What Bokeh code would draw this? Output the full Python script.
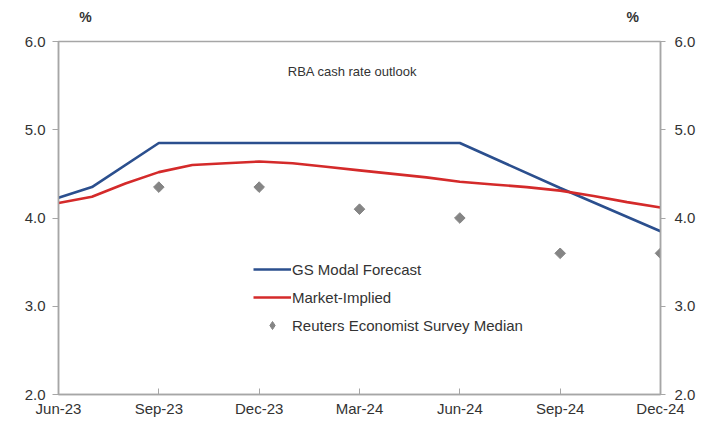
import math
from bokeh.plotting import figure
from bokeh.models import (LinearAxis, Range1d, FixedTicker, PrintfTickFormatter,
                          Legend, LegendItem, Label)
from bokeh.embed import file_html
from bokeh.resources import INLINE

months = ["Jun-23", "Jul-23", "Aug-23", "Sep-23", "Oct-23", "Nov-23", "Dec-23",
          "Jan-24", "Feb-24", "Mar-24", "Apr-24", "May-24", "Jun-24",
          "Jul-24", "Aug-24", "Sep-24", "Oct-24", "Nov-24", "Dec-24"]
tick_labels = ["Jun-23", "Sep-23", "Dec-23", "Mar-24", "Jun-24", "Sep-24", "Dec-24"]

gs_months = ["Jun-23", "Jul-23", "Sep-23", "Dec-23", "Mar-24", "Jun-24", "Sep-24", "Dec-24"]
gs_values = [4.23, 4.35, 4.85, 4.85, 4.85, 4.85, 4.34, 3.85]

mkt_months = months
mkt_values = [4.17, 4.24, 4.39, 4.52, 4.60, 4.62, 4.64, 4.62, 4.58, 4.54, 4.50,
              4.46, 4.41, 4.38, 4.35, 4.31, 4.25, 4.18, 4.12]

survey_months = ["Sep-23", "Dec-23", "Mar-24", "Jun-24", "Sep-24", "Dec-24"]
survey_values = [4.35, 4.35, 4.10, 4.00, 3.60, 3.60]

idx = {m: i for i, m in enumerate(months)}

FONT = "Liberation Sans"
TXT = "#333333"
AX = "#a6a6a6"
GREY = "#858585"

p = figure(width=702, height=430, output_backend="svg", toolbar_location=None,
           x_range=Range1d(0, len(months) - 1), y_range=Range1d(2.0, 6.0),
           min_border_left=58, min_border_right=42, min_border_top=41,
           min_border_bottom=36, outline_line_color=AX, outline_line_width=1.5)
p.grid.visible = False
p.background_fill_color = "white"
p.border_fill_color = "white"

gs = p.line([idx[m] for m in gs_months], gs_values, line_color="#2b4f8e", line_width=2.6)
mk = p.line([idx[m] for m in mkt_months], mkt_values, line_color="#d42a2a", line_width=2.6)
p.scatter([idx[m] for m in survey_months], survey_values, marker="square",
          angle=math.pi / 4, size=7.5, fill_color=GREY, line_color=GREY)
# legend-only glyph (a single NaN point, never drawn in the plot): small diamond
sv_leg = p.scatter(x=[float("nan")], y=[float("nan")], marker="diamond", size=8,
                   fill_color=GREY, line_color=GREY)


def style_axis(ax, tin, tout, standoff):
    ax.major_tick_in = tin
    ax.major_tick_out = tout
    ax.minor_tick_line_color = None
    ax.axis_line_color = AX
    ax.axis_line_width = 1.5
    ax.major_tick_line_color = AX
    ax.major_label_text_font = FONT
    ax.major_label_text_font_size = "15px"
    ax.major_label_text_color = TXT
    ax.major_label_standoff = standoff


xa = p.xaxis[0]
xa.ticker = FixedTicker(ticks=[idx[m] for m in tick_labels])
xa.major_label_overrides = {idx[m]: m for m in tick_labels}
style_axis(xa, 6, 0, 5)

ya = p.yaxis[0]
ya.ticker = FixedTicker(ticks=[2, 3, 4, 5, 6])
ya.formatter = PrintfTickFormatter(format="%.1f")
style_axis(ya, 0, 6, 7)

ry = LinearAxis(ticker=FixedTicker(ticks=[2, 3, 4, 5, 6]),
                formatter=PrintfTickFormatter(format="%.1f"))
style_axis(ry, 0, 5, 9)
p.add_layout(ry, "right")

# "%" unit markers above the frame
pct_x = [0.81, 17.17]
ta = LinearAxis(ticker=FixedTicker(ticks=pct_x))
ta.major_label_overrides = {pct_x[0]: "%", pct_x[1]: "%"}
ta.axis_line_color = None
ta.major_tick_line_color = None
ta.minor_tick_line_color = None
ta.major_label_text_font = FONT
ta.major_label_text_font_size = "14px"
ta.major_label_text_font_style = "bold"
ta.major_label_text_color = TXT
ta.major_label_standoff = 11
p.add_layout(ta, "above")

p.add_layout(Label(x=8.79, y=5.66, text="RBA cash rate outlook", text_align="center",
                   text_baseline="middle", text_font=FONT, text_font_size="13px",
                   text_color=TXT))

legend = Legend(items=[LegendItem(label="GS Modal Forecast", renderers=[gs]),
                       LegendItem(label="Market-Implied", renderers=[mk]),
                       LegendItem(label="Reuters Economist Survey Median", renderers=[sv_leg])],
                location=(195, 59), orientation="vertical", padding=0, margin=0,
                spacing=8, glyph_width=38, glyph_height=20, label_height=20,
                label_standoff=1, border_line_color=None, background_fill_alpha=0,
                label_text_font=FONT, label_text_font_size="15px",
                label_text_color=TXT)
p.add_layout(legend)

open("out.html", "w").write(file_html(p, INLINE))
